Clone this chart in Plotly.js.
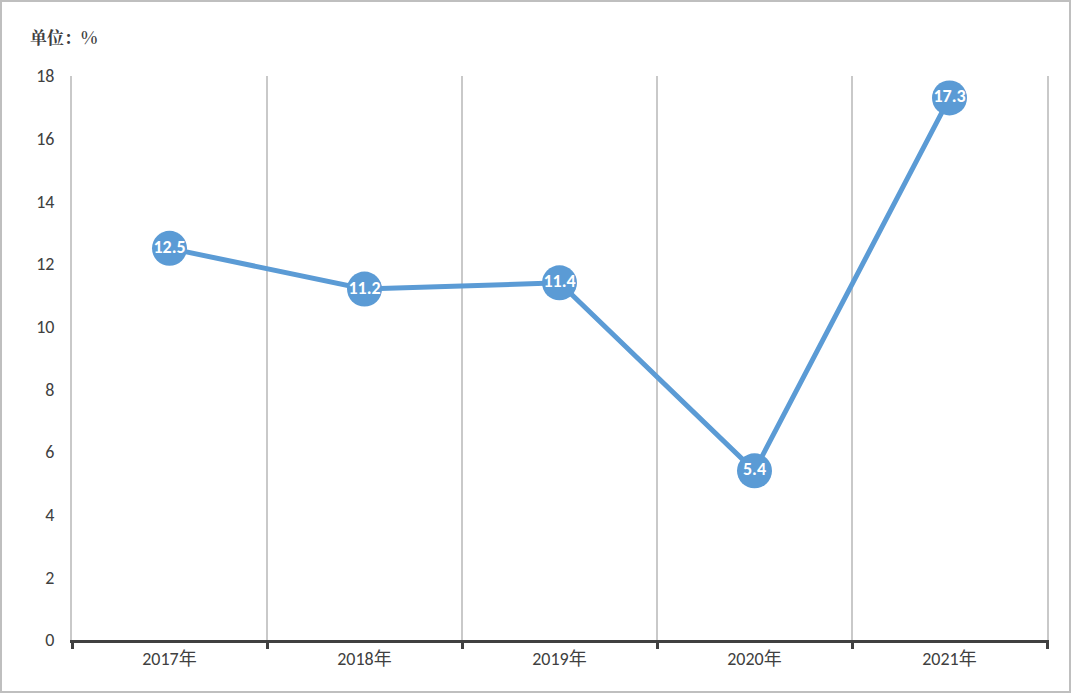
<!DOCTYPE html>
<html><head><meta charset="utf-8">
<script src="https://cdn.plot.ly/plotly-3.0.1.min.js"></script>
<style>
html,body{margin:0;padding:0;background:#fff;}
#wrap{width:1071px;height:693px;box-sizing:border-box;border:2px solid #bfbfbf;overflow:hidden;}
#chart{width:1067px;height:689px;}
</style></head>
<body><div id="wrap"><div id="chart"></div></div>
<script>
const categories = ['2017年','2018年','2019年','2020年','2021年'];
const values = [12.5, 11.2, 11.4, 5.4, 17.3];
const labels = ['12.5','11.2','11.4','5.4','17.3'];
const yTicks = [0,2,4,6,8,10,12,14,16,18];

const fontFamily = 'Calibri, Carlito, Lato, "Noto Sans CJK SC", sans-serif';

const trace = {
  x: categories, y: values, type: 'scatter', mode: 'lines+markers+text',
  text: labels, textposition: 'middle center',
  textfont: {family: fontFamily, size: 18, color: '#ffffff', weight: 'bold'},
  line: {color: '#5b9bd5', width: 5},
  marker: {color: '#5b9bd5', size: 35, line: {width: 0}},
  hoverinfo: 'skip', cliponaxis: false
};

const layout = {
  width: 1067, height: 689,
  margin: {l: 70, r: 22, t: 74, b: 51},
  paper_bgcolor: '#ffffff', plot_bgcolor: '#ffffff',
  showlegend: false,
  font: {family: fontFamily, color: '#404040', size: 18},
  title: {text: '<b>单位：%</b>', x: 0, xref: 'paper', xanchor: 'left', y: 0.947, yref: 'container', yanchor: 'middle',
          font: {family: '"Noto Serif CJK SC","Noto Sans CJK SC", serif', size: 17, color: '#404040'},
          pad: {l: -42}},
  xaxis: {type: 'category', tickson: 'boundaries', showgrid: true, gridcolor: '#c9c9c9', gridwidth: 2,
          showline: true, linecolor: '#404040', linewidth: 3, ticks: 'outside', ticklen: 6, tickwidth: 3,
          tickcolor: '#404040', tickfont: {family: fontFamily, size: 18, color: '#404040'},
          range: [-0.5, 4.5], zeroline: false, fixedrange: true},
  yaxis: {range: [0, 18], tickvals: yTicks, ticktext: yTicks.map(String), showgrid: false, zeroline: false,
          showline: true, linecolor: '#c9c9c9', linewidth: 2, mirror: true,
          ticks: '', tickfont: {family: fontFamily, size: 18, color: '#404040'},
          ticklabelstandoff: 12, fixedrange: true}
};

Plotly.newPlot('chart', [trace], layout, {displayModeBar: false, staticPlot: true});
</script></body></html>
